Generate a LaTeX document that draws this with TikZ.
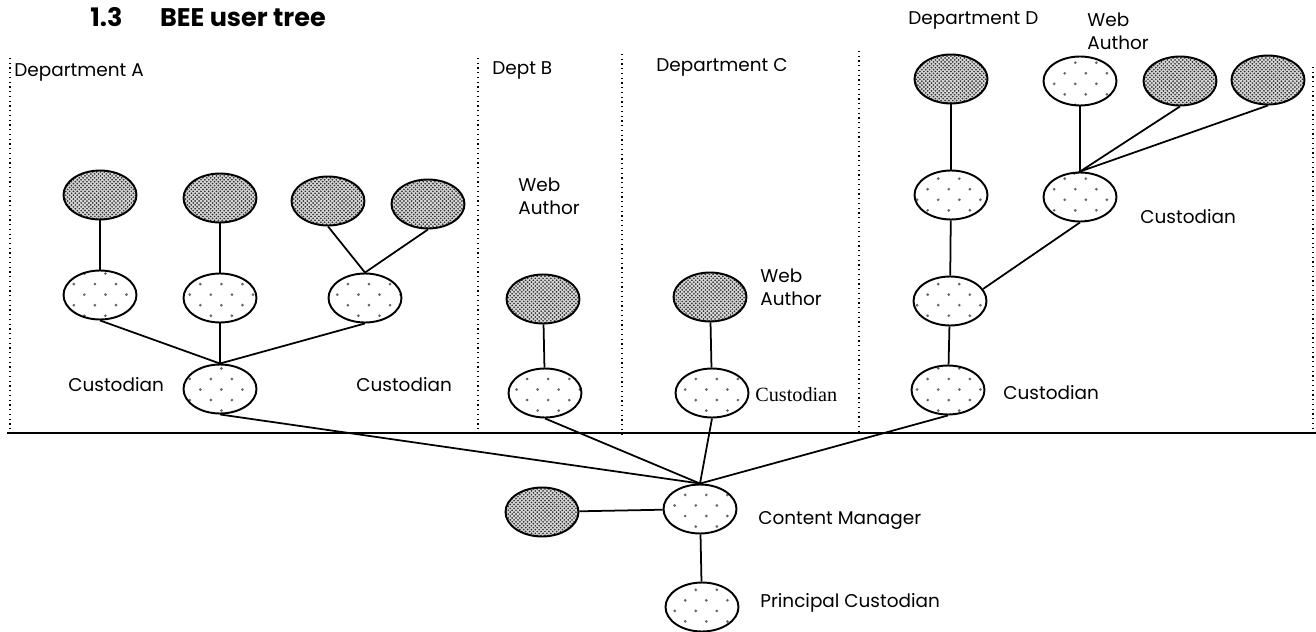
\documentclass[tikz,border=0pt]{standalone}
\usepackage{fontspec}
\setmainfont{Poppins}
\newfontfamily\timesfont{Liberation Serif}
\usetikzlibrary{shapes.geometric}
\usetikzlibrary{patterns}

\pgfdeclarepatternformonly{thickdots}{\pgfqpoint{-1pt}{-1pt}}{\pgfqpoint{3pt}{3pt}}{\pgfqpoint{2.2pt}{2.2pt}}{
  \pgfpathcircle{\pgfqpoint{0pt}{0pt}}{0.55pt}
  \pgfpathcircle{\pgfqpoint{1.1pt}{1.1pt}}{0.55pt}
  \pgfusepath{fill}}
\pgfdeclarepatternformonly{thindots}{\pgfqpoint{-1pt}{-1pt}}{\pgfqpoint{13pt}{13pt}}{\pgfqpoint{12pt}{12pt}}{
  \pgfpathcircle{\pgfqpoint{0pt}{0pt}}{0.85pt}
  \pgfpathcircle{\pgfqpoint{6pt}{6pt}}{0.85pt}
  \pgfusepath{fill}}

\begin{document}
\begin{tikzpicture}[x=0.02cm, y=-0.02cm,
    dark/.style={ellipse, draw, line width=1.1pt, minimum width=1.46cm, minimum height=0.98cm, inner sep=0pt,
      preaction={fill=gray!30}, pattern=thickdots, pattern color=black!80},
    light/.style={ellipse, draw, line width=1.1pt, minimum width=1.46cm, minimum height=0.98cm, inner sep=0pt,
      preaction={fill=white}, pattern=thindots, pattern color=black!60},
    link/.style={line width=1pt},
    sep/.style={dotted, line width=0.7pt},
    lbl/.style={anchor=west, inner sep=0pt, align=left, font=\fontsize{10.5}{13}\selectfont}]
        \useasboundingbox (0,0) rectangle (1316,632);

        \node[anchor=west, inner sep=0pt, font=\bfseries\fontsize{14.5}{16}\selectfont] (title) at (90,17) {1.3\hspace{0.75cm}BEE user tree};

        % department separators
        \draw[sep] (10,58) -- (10,432);
        \draw[sep] (478,58) -- (478,432);
        \draw[sep] (622,54) -- (622,438);
        \draw[sep] (859,51) -- (859,432);
        \draw[sep] (1313,67) -- (1313,432);
        \draw[line width=1.1pt] (7,433) -- (1316,433);

        \node[lbl] (deptA) at (14,72) {Department A};
        \node[lbl] (deptB) at (492,70) {Dept B};
        \node[lbl] (deptC) at (656,67) {Department C};
        \node[lbl] (deptD) at (908,20) {Department D};

        % Department A
        \node[dark] (a1) at (100,195) {};
        \node[dark] (a2) at (220,198) {};
        \node[dark] (a3) at (328,201) {};
        \node[dark] (a4) at (428,204) {};
        \node[light] (la1) at (100,295) {};
        \node[light] (la2) at (220,298) {};
        \node[light] (la3) at (365,298) {};
        \node[light] (ca) at (220,389) {};
        \node[lbl] (custA1) at (68,385) {Custodian};
        \node[lbl] (custA2) at (356,385) {Custodian};

        \draw[link] (a1) -- (la1);
        \draw[link] (a2) -- (la2);
        \draw[link] (a3.south) -- (la3.north) -- (a4.south);
        \draw[link] (la1.south) -- (ca.north) -- (la3.south);
        \draw[link] (la2) -- (ca);

        % Dept B
        \node[dark] (b1) at (543,299) {};
        \node[light] (cb) at (545,393) {};
        \node[lbl] (webB) at (518,196) {Web\\Author};
        \draw[link] (b1) -- (cb);

        % Department C
        \node[dark] (c1) at (710,297) {};
        \node[light] (cc) at (712,393) {};
        \node[lbl] (webC) at (760,287) {Web\\Author};
        \node[lbl, font=\timesfont\fontsize{11.5}{13}\selectfont] (custC) at (755,395) {Custodian};
        \draw[link] (c1) -- (cc);

        % Department D
        \node[dark] (d1) at (951,79) {};
        \node[light] (d2) at (1080,81) {};
        \node[dark] (d3) at (1180,81) {};
        \node[dark] (d4) at (1268,80) {};
        \node[light] (ld1) at (951,195) {};
        \node[light] (ld2) at (1080,197) {};
        \node[light] (dm) at (950,301) {};
        \node[light] (cd) at (948,390) {};
        \node[lbl] (webD) at (1087,31) {Web\\Author};
        \node[lbl] (custD1) at (1140,217) {Custodian};
        \node[lbl] (custD2) at (1003,393) {Custodian};

        \draw[link] (d1) -- (ld1);
        \draw[link] (d2) -- (ld2);
        \draw[link] (d3.south) -- (ld2.north) -- (d4.south);
        \draw[link] (ld1) -- (dm);
        \draw[link] (ld2.south) -- (dm.20);
        \draw[link] (dm) -- (cd);

        % content manager
        \node[light] (cm) at (700,509) {};
        \node[dark] (cx) at (542,512) {};
        \node[light] (pc) at (702,607) {};
        \node[lbl] (cmlbl) at (758,520) {Content Manager};
        \node[lbl] (pclbl) at (760,603) {Principal Custodian};

        \draw[link] (cx) -- (cm);
        \draw[link] (cm) -- (pc);
        \draw[link] (ca.south) -- (cm.north);
        \draw[link] (cb.south) -- (cm.north);
        \draw[link] (cc.south) -- (cm.north);
        \draw[link] (cd.south) -- (cm.north);

    \end{tikzpicture}
\end{document}
